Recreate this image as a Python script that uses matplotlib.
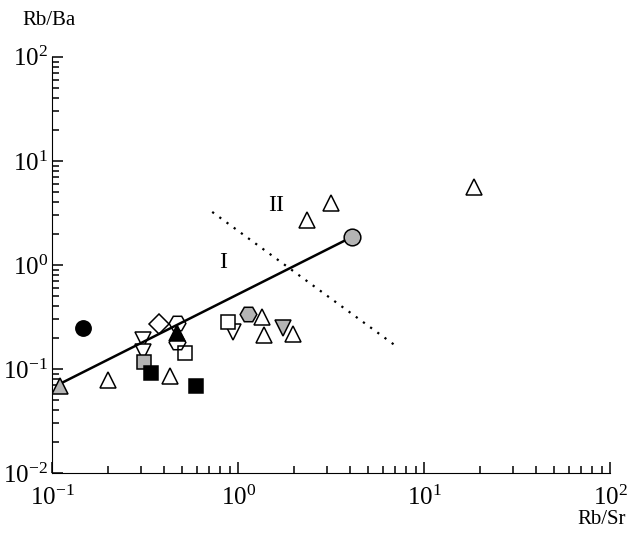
import matplotlib.pyplot as plt
from matplotlib.ticker import LogLocator, NullFormatter

plt.rcParams['font.family'] = ['Liberation Serif', 'DejaVu Serif']
plt.rcParams['mathtext.fontset'] = 'stix'

GRAY = '#b4b4b4'

# Rb/Sr, Rb/Ba values per symbol group
open_tri_x = [0.2, 0.43, 1.35, 1.38, 1.98, 2.35, 3.16, 18.6]
open_tri_y = [0.078, 0.086, 0.316, 0.212, 0.217, 2.71, 3.95, 5.6]
gray_tri_x = [0.11]
gray_tri_y = [0.069]
black_tri_x = [0.47]
black_tri_y = [0.222]
open_inv_x = [0.308, 0.308, 0.94]
open_inv_y = [0.19, 0.146, 0.227]
gray_inv_x = [1.75]
gray_inv_y = [0.248]
open_sq_x = [0.52, 0.88]
open_sq_y = [0.143, 0.283]
gray_sq_x = [0.31]
gray_sq_y = [0.117]
black_sq_x = [0.34, 0.59]
black_sq_y = [0.092, 0.069]
open_dia_x = [0.376]
open_dia_y = [0.271]
open_hex_x = [0.47, 0.47]
open_hex_y = [0.277, 0.182]
gray_hex_x = [1.13]
gray_hex_y = [0.338]
black_circ_x = [0.147]
black_circ_y = [0.248]
gray_circ_x = [4.1]
gray_circ_y = [1.86]

trend_x = [0.11, 4.1]
trend_y = [0.072, 1.86]
divide_x = [0.725, 7.16]
divide_y = [3.23, 0.163]

fig = plt.figure(figsize=(6.29, 5.36), dpi=100)
ax = fig.add_axes([0.083, 0.1175, 0.887, 0.7765])
ax.set_xscale('log')
ax.set_yscale('log')
ax.set_xlim(0.1, 100)
ax.set_ylim(0.01, 100)

ax.plot(trend_x, trend_y, color='black', lw=1.8, zorder=3)
ax.plot(divide_x, divide_y, color='black', lw=1.6, ls=(0, (1, 3)), zorder=3)


def pts(x, y, marker, face, ms=11, z=2):
    ax.plot(x, y, ls='none', marker=marker, ms=ms, mfc=face, mec='black',
            mew=1.1, zorder=z)


pts(open_tri_x, open_tri_y, '^', 'white')
pts(gray_tri_x, gray_tri_y, '^', GRAY, z=4)
pts(black_tri_x, black_tri_y, '^', 'black')
pts(open_inv_x, open_inv_y, 'v', 'white')
pts(gray_inv_x, gray_inv_y, 'v', GRAY)
pts(open_sq_x, open_sq_y, 's', 'white', ms=10)
pts(gray_sq_x, gray_sq_y, 's', GRAY, ms=10)
pts(black_sq_x, black_sq_y, 's', 'black', ms=10)
pts(open_dia_x, open_dia_y, 'D', 'white', ms=10)
pts(open_hex_x, open_hex_y, 'H', 'none', ms=12)
pts(gray_hex_x, gray_hex_y, 'H', GRAY, ms=12)
pts(black_circ_x, black_circ_y, 'o', 'black', ms=11)
pts(gray_circ_x, gray_circ_y, 'o', GRAY, ms=12, z=4)

ax.text(1.6, 3.7, 'II', fontsize=17, ha='center', va='center')
ax.text(0.83, 1.05, 'I', fontsize=17, ha='center', va='center')

for s in ['top', 'right']:
    ax.spines[s].set_visible(False)
ax.xaxis.set_major_locator(LogLocator(base=10, numticks=10))
ax.yaxis.set_major_locator(LogLocator(base=10, numticks=10))
ax.xaxis.set_minor_locator(LogLocator(base=10, subs=range(2, 10), numticks=20))
ax.yaxis.set_minor_locator(LogLocator(base=10, subs=range(2, 10), numticks=20))
ax.xaxis.set_minor_formatter(NullFormatter())
ax.yaxis.set_minor_formatter(NullFormatter())
ax.tick_params(which='both', direction='in', labelsize=18, width=1.1)
ax.tick_params(which='major', length=8)
ax.tick_params(which='minor', length=5)
ax.tick_params(axis='x', which='major', pad=9)
ax.tick_params(axis='y', which='major', pad=3)

fig.text(0.035, 0.962, 'Rb/Ba', fontsize=15, ha='left', va='center')
fig.text(0.995, 0.03, 'Rb/Sr', fontsize=15, ha='right', va='center')

fig.savefig('out.png', dpi=100)
